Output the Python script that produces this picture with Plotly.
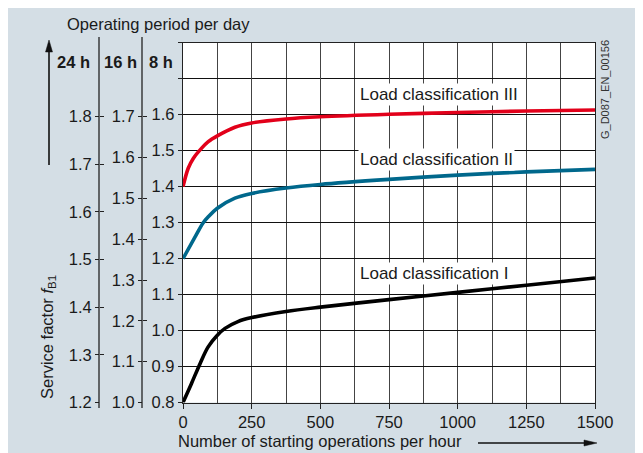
import plotly.graph_objects as go

W, H = 643, 453

# ---- data ----
starts = [0, 19, 38, 68, 92, 125, 189, 250, 375, 500, 750, 1000, 1250, 1500]
load_III = [1.40, 1.451, 1.479, 1.507, 1.525, 1.541, 1.565, 1.577, 1.588, 1.594, 1.601, 1.606, 1.610, 1.613]

starts_II = [0, 44, 73, 92, 125, 189, 250, 375, 500, 750, 1000, 1250, 1500]
load_II = [1.20, 1.260, 1.299, 1.316, 1.340, 1.368, 1.381, 1.396, 1.406, 1.420, 1.432, 1.441, 1.448]

starts_I = [0, 31, 62, 91, 125, 153, 200, 250, 375, 500, 750, 1000, 1250, 1500]
load_I = [0.80, 0.853, 0.908, 0.954, 0.987, 1.006, 1.025, 1.036, 1.053, 1.065, 1.086, 1.106, 1.126, 1.146]

x_ticks = [0, 250, 500, 750, 1000, 1250, 1500]
y8_ticks = [0.8, 0.9, 1.0, 1.1, 1.2, 1.3, 1.4, 1.5, 1.6]
y8_labels = ["0.8", "0.9", "1.0", "1.1", "1.2", "1.3", "1.4", "1.5", "1.6"]
y16_ticks = [1.0, 1.1, 1.2, 1.3, 1.4, 1.5, 1.6, 1.7]
y16_labels = ["1.0", "1.1", "1.2", "1.3", "1.4", "1.5", "1.6", "1.7"]
y24_ticks = [1.2, 1.3, 1.4, 1.5, 1.6, 1.7, 1.8]
y24_labels = ["1.2", "1.3", "1.4", "1.5", "1.6", "1.7", "1.8"]

series_names = ["Load classification III", "Load classification II", "Load classification I"]
colors = ["#e2001a", "#00688c", "#000000"]

FONT = "Arial, Liberation Sans, sans-serif"
TXT = "#1a1a1a"
BG = "#d4dee5"
OFF = 8  # page offset of the figure


def px(x):
    return (x - OFF) / W


def py(y):
    return 1 - (y - OFF) / H


fig = go.Figure()
for xs, ys, name, c in [(starts, load_III, series_names[0], colors[0]),
                        (starts_II, load_II, series_names[1], colors[1]),
                        (starts_I, load_I, series_names[2], colors[2])]:
    fig.add_trace(go.Scatter(x=xs, y=ys, mode="lines", name=name,
                             line=dict(color=c, width=3.6, shape="spline", smoothing=0.9),
                             showlegend=False, hoverinfo="skip"))

# empty traces so that the extra scales are drawn
for ax in ["y2", "y3", "y4", "y5"]:
    fig.add_trace(go.Scatter(x=[None], y=[None], yaxis=ax, showlegend=False, hoverinfo="skip"))

# plot area pixel geometry (page pixels)
x0p, x1p = 183, 595
ytop, ybot = 42.7, 402.5
ax_top, ax_bot = 37, 408

s24 = (402.5 - 116.7) / 0.6
s16 = (402.5 - 116.7) / 0.7
r24 = [1.2 - (ybot - 402.5) / s24, 1.8 + (116.7 - ytop) / s24]
r16 = [1.0 - (ybot - 402.5) / s16, 1.7 + (116.7 - ytop) / s16]

tickfont = dict(family=FONT, size=16.5, color=TXT)

common_side = dict(anchor="free", overlaying="y", side="left", showgrid=False, zeroline=False,
                   tickwidth=1.2, tickcolor="#222", fixedrange=True, tickfont=tickfont)

fig.update_layout(
    width=W, height=H,
    margin=dict(l=0, r=0, t=0, b=0, autoexpand=False),
    paper_bgcolor=BG,
    plot_bgcolor="white",
    font=dict(family=FONT, size=16, color=TXT),
    xaxis=dict(domain=[px(x0p), px(x1p)], range=[0, 1500], tickvals=x_ticks,
               ticks="outside", ticklen=5, tickwidth=1.2, tickcolor="#222",
               showgrid=True, gridcolor="#444", gridwidth=1.2,
               minor=dict(dtick=125, tick0=0, showgrid=True, gridcolor="#444", gridwidth=1.2, ticks=""),
               showline=True, linecolor="#222", linewidth=1.3, mirror=True,
               zeroline=False, tickfont=tickfont, fixedrange=True),
    yaxis=dict(domain=[py(ybot), py(ytop)], range=[0.8, 1.8], tickvals=y8_ticks, ticktext=y8_labels,
               ticks="outside", ticklen=4, tickwidth=1.2, tickcolor="#222",
               showgrid=True, gridcolor="#111", gridwidth=1.2,
               minor=dict(dtick=0.1, tick0=0.8, showgrid=True, gridcolor="#111", gridwidth=1.2,
                          ticks="outside", ticklen=4, tickwidth=1.2, tickcolor="#222"),
               showline=True, linecolor="#222", linewidth=1.3, mirror=True,
               zeroline=False, tickfont=tickfont, fixedrange=True),
    yaxis2=dict(position=px(99), range=r24, tickvals=y24_ticks, ticktext=y24_labels,
                ticks="outside", ticklen=4, showline=False, **common_side),
    yaxis3=dict(position=px(99), range=r24, tickvals=y24_ticks, showticklabels=False,
                ticks="inside", ticklen=4, showline=False, **common_side),
    yaxis4=dict(position=px(142), range=r16, tickvals=y16_ticks, ticktext=y16_labels,
                ticks="outside", ticklen=4, showline=False, **common_side),
    yaxis5=dict(position=px(142), range=r16, tickvals=y16_ticks, showticklabels=False,
                ticks="inside", ticklen=4, showline=False, **common_side),
)

# axis lines of the 24 h and 16 h scales (slightly longer than the plot)
for xl in (99, 142):
    fig.add_shape(type="line", xref="paper", yref="paper", x0=px(xl), x1=px(xl),
                  y0=py(ax_bot), y1=py(ax_top), line=dict(color="#222", width=1.3))

# vertical arrow on the left
fig.add_shape(type="line", xref="paper", yref="paper", x0=px(49), x1=px(49),
              y0=py(165), y1=py(50), line=dict(color="#111", width=1.6))
fig.add_shape(type="path", xref="paper", yref="paper",
              path=f"M {px(49)} {py(40)} L {px(45.5)} {py(52)} L {px(52.5)} {py(52)} Z",
              fillcolor="#111", line=dict(color="#111", width=0.5))
# horizontal arrow at the bottom
fig.add_shape(type="line", xref="paper", yref="paper", x0=px(478), x1=px(588),
              y0=py(443), y1=py(443), line=dict(color="#111", width=1.4))
fig.add_shape(type="path", xref="paper", yref="paper",
              path=f"M {px(597)} {py(443)} L {px(584)} {py(440)} L {px(584)} {py(446)} Z",
              fillcolor="#111", line=dict(color="#111", width=0.5))

ann = []
label_pos = [(637, 1.656), (637, 1.474), (637, 1.1575)]
for name, (lx, ly) in zip(series_names, label_pos):
    ann.append(dict(x=lx, y=ly, xref="x", yref="y", text=name, showarrow=False,
                    xanchor="left", yanchor="middle", bgcolor="white", borderpad=1,
                    font=dict(family=FONT, size=17, color=TXT)))

ann += [
    dict(x=px(65), y=py(24), xref="paper", yref="paper", text="Operating period per day",
         showarrow=False, xanchor="left", yanchor="middle", font=dict(size=16.5, color=TXT, family=FONT)),
    dict(x=px(73), y=py(62), xref="paper", yref="paper", text="<b>24 h</b>",
         showarrow=False, xanchor="center", yanchor="middle", font=dict(size=16.5, color=TXT, family=FONT)),
    dict(x=px(121), y=py(62), xref="paper", yref="paper", text="<b>16 h</b>",
         showarrow=False, xanchor="center", yanchor="middle", font=dict(size=16.5, color=TXT, family=FONT)),
    dict(x=px(161), y=py(62), xref="paper", yref="paper", text="<b>8 h</b>",
         showarrow=False, xanchor="center", yanchor="middle", font=dict(size=16.5, color=TXT, family=FONT)),
    dict(x=px(176), y=py(441), xref="paper", yref="paper", text="Number of starting operations per hour",
         showarrow=False, xanchor="left", yanchor="middle", font=dict(size=16.5, color=TXT, family=FONT)),
    dict(x=px(48), y=py(337), xref="paper", yref="paper",
         text="Service factor <i>f</i><sub>B1</sub>", textangle=-90,
         showarrow=False, xanchor="center", yanchor="middle", font=dict(size=16.5, color=TXT, family=FONT)),
    dict(x=px(605), y=py(90), xref="paper", yref="paper", text="G_D087_EN_00156", textangle=-90,
         showarrow=False, xanchor="center", yanchor="middle", font=dict(size=11, color="#333", family=FONT)),
]
fig.update_layout(annotations=ann)

fig.write_html("out.html")
